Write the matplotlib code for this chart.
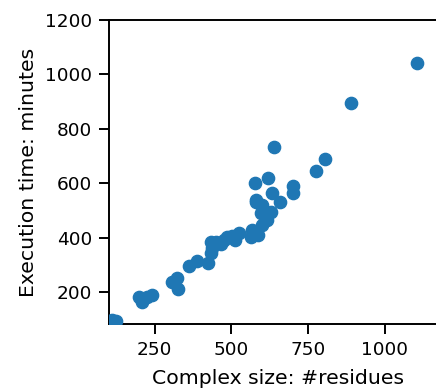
import matplotlib
matplotlib.use('Agg')
import matplotlib.pyplot as plt

# complex size (#residues) vs execution time (minutes)
residues = [112, 123, 199, 210, 226, 242, 307, 324, 327, 362, 387, 425, 432, 438,
            432, 449, 465, 476, 487, 503, 512, 525, 563, 585, 568, 601, 617, 595,
            612, 628, 601, 581, 658, 580, 701, 702, 631, 619, 577, 776, 805, 639,
            890, 1105]
minutes = [97, 94, 183, 164, 180, 189, 238, 250, 210, 296, 314, 305, 382, 361,
           342, 385, 376, 391, 403, 406, 391, 416, 403, 410, 428, 446, 465, 489,
           495, 495, 520, 531, 531, 538, 564, 590, 565, 619, 600, 645, 689, 733,
           895, 1042]

x_ticks = [250, 500, 750, 1000]
y_ticks = [200, 400, 600, 800, 1000, 1200]

fig = plt.figure(figsize=(4.36, 3.89), dpi=100)
# axes run well past the right edge of the figure, as in the cropped original
ax = fig.add_axes([109 / 436, 65 / 389, 380 / 436, 304 / 389])

ax.scatter(residues, minutes, s=78, color='#1f77b4', zorder=3)

ax.set_xlim(101, 1339)
ax.set_ylim(82, 1200)
ax.set_xticks(x_ticks)
ax.set_yticks(y_ticks)
ax.tick_params(labelsize=13.3, length=7, width=1.4, pad=5)
for s in ax.spines.values():
    s.set_linewidth(1.4)

ax.set_xlabel('Complex size: #residues', fontsize=14.7)
ax.set_ylabel('Execution time: minutes', fontsize=14.7, labelpad=5)
ax.xaxis.set_label_coords((278 - 109) / 380, -0.147)

fig.savefig('out.png', dpi=100)
